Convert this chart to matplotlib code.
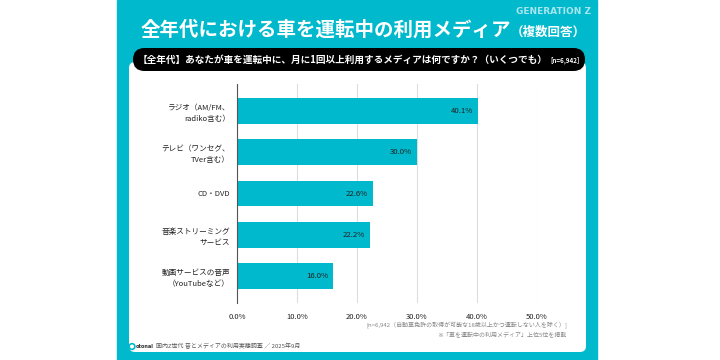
import matplotlib.pyplot as plt
from matplotlib.patches import FancyBboxPatch, Rectangle, Circle

plt.rcParams['font.family'] = ['Noto Sans CJK JP', 'DejaVu Sans']

# data
categories = ['ラジオ（AM/FM、\nradiko含む）', 'テレビ（ワンセグ、\nTVer含む）', 'CD・DVD',
              '音楽ストリーミング\nサービス', '動画サービスの音声\n（YouTubeなど）']
values = [40.1, 30.0, 22.6, 22.2, 16.0]
xticks = [0, 10, 20, 30, 40, 50]

title = '全年代における車を運転中の利用メディア'
title_sub = '（複数回答）'
question = '【全年代】あなたが車を運転中に、月に1回以上利用するメディアは何ですか？（いくつでも）'
n_label = '[n=6,942]'
note1 = '[n=6,942（自動車免許の取得が可能な18歳以上かつ運転しない人を除く）]'
note2 = '※「車を運転中の利用メディア」上位5位を掲載'
source = '国内Z世代 音とメディアの利用実態調査 ／ 2025年9月'

teal = '#00B9CC'
W, H = 720, 360

fig = plt.figure(figsize=(7.2, 3.6), dpi=100)
fig.patch.set_facecolor('white')

# background layer in pixel units
bg = fig.add_axes([0, 0, 1, 1])
bg.set_xlim(0, W)
bg.set_ylim(H, 0)
bg.axis('off')
bg.add_patch(Rectangle((117, 0), 480, 360, color=teal, zorder=0))
bg.add_patch(FancyBboxPatch((129, 62), 457, 290, boxstyle='round,pad=0,rounding_size=6',
                            facecolor='white', edgecolor='none', zorder=1))
bg.add_patch(FancyBboxPatch((133, 48), 452, 23, boxstyle='round,pad=0,rounding_size=11.5',
                            facecolor='black', edgecolor='none', zorder=2))

bg.text(591, 12, 'GENERATION Z', color='#A8E6EE', fontsize=6.5, fontweight='bold',
        ha='right', va='center', family=['DejaVu Sans'], zorder=3)
bg.text(511, 30, title, color='white', fontsize=14, fontweight='bold',
        ha='right', va='center', zorder=3)
bg.text(511, 32, title_sub, color='white', fontsize=9, fontweight='bold',
        ha='left', va='center', zorder=3)
bg.text(548, 59.5, question, color='white', fontsize=6.95, fontweight='bold',
        ha='right', va='center', zorder=3)
bg.text(550, 60, n_label, color='white', fontsize=4.5, fontweight='bold',
        ha='left', va='center', zorder=3)

bg.text(567, 325, note1, color='#888888', fontsize=4.3, ha='right', va='center', zorder=3)
bg.text(567, 334, note2, color='#888888', fontsize=4.3, ha='right', va='center', zorder=3)

bg.add_patch(Circle((132, 346.5), 3.0, color=teal, zorder=3))
bg.add_patch(Circle((132, 346.5), 1.3, color='white', zorder=4))
bg.text(135.5, 346.5, 'otonal', color='#333333', fontsize=3.6, fontweight='bold',
        ha='left', va='center', family=['DejaVu Sans'], zorder=3)
bg.text(156, 346.5, source, color='#555555', fontsize=4.3, ha='left', va='center', zorder=3)

# bar chart
ax = fig.add_axes([237 / W, 1 - 303 / H, 300 / W, 219 / H])
ax.set_facecolor('none')
ypos = list(range(len(categories)))
ax.barh(ypos, values, height=0.63, color=teal, zorder=2)
for y, v in zip(ypos, values):
    ax.text(v - 0.8, y, f'{v:.1f}%', ha='right', va='center', fontsize=5.6,
            color='#222222', zorder=3)

ax.set_xlim(0, 50)
ax.set_ylim(len(categories) - 1 + 0.655, -0.655)
ax.set_xticks(xticks)
ax.set_xticklabels([f'{t:.1f}%' for t in xticks], fontsize=5.5, color='#222222')
ax.set_yticks(ypos)
ax.set_yticklabels(categories, fontsize=5.5, color='#222222', linespacing=1.45, ha='right')
ax.tick_params(axis='both', length=0, pad=5)
ax.tick_params(axis='x', pad=7)
ax.grid(axis='x', color='#dddddd', linewidth=0.8, zorder=0)
for s in ['top', 'right', 'bottom']:
    ax.spines[s].set_visible(False)
ax.spines['left'].set_color('#555555')
ax.spines['left'].set_linewidth(0.8)
ax.spines['left'].set_zorder(4)

fig.savefig('out.png', dpi=100)
